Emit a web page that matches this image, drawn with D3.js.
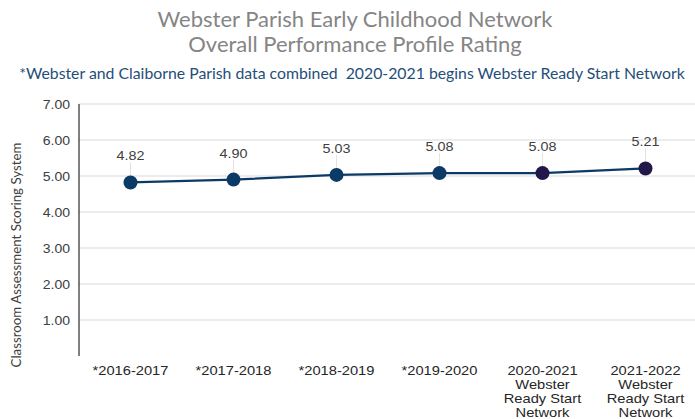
<!DOCTYPE html>
<html lang="en">
<head>
<meta charset="UTF-8">
<title>Webster Parish Early Childhood Network</title>
<script src="https://d3js.org/d3.v7.min.js"></script>
<style>
  body { margin: 0; background: #fff; }
  svg { display: block; }
</style>
</head>
<body>
<div id="chart"></div>
<script>
// data
var years = ["*2016-2017", "*2017-2018", "*2018-2019", "*2019-2020", "2020-2021", "2021-2022"];
var subLabels = [[], [], [], [], ["Webster", "Ready Start", "Network"], ["Webster", "Ready Start", "Network"]];
var scores = [4.82, 4.90, 5.03, 5.08, 5.08, 5.21];
var markerColors = ["#0c3a66", "#0c3a66", "#0c3a66", "#0c3a66", "#22174a", "#22174a"];
var yTicks = [1, 2, 3, 4, 5, 6, 7];

var width = 695, height = 419;
var margin = {top: 104, right: -2, bottom: 63, left: 79};
var stretch = 1.13; // the source picture is a bit wide, text looks stretched

var svg = d3.select("#chart").append("svg")
    .attr("width", width)
    .attr("height", height);

var x = d3.scaleBand()
    .domain(years)
    .range([margin.left, width - margin.right]);

var y = d3.scaleLinear()
    .domain([0, 7])
    .range([height - margin.bottom, margin.top]);

var armFont = "'Liberation Sans', Arial, sans-serif";

// titles
var titleFont = "Lato, 'Open Sans', sans-serif";
svg.append("text")
    .attr("x", 355).attr("y", 27)
    .attr("text-anchor", "middle")
    .attr("font-family", titleFont)
    .attr("font-size", 22)
    .attr("fill", "#858585")
    .text("Webster Parish Early Childhood Network");
svg.append("text")
    .attr("x", 355).attr("y", 52)
    .attr("text-anchor", "middle")
    .attr("font-family", titleFont)
    .attr("font-size", 22)
    .attr("fill", "#858585")
    .text("Overall Performance Profile Rating");
svg.append("text")
    .attr("x", 352).attr("y", 79)
    .attr("text-anchor", "middle")
    .attr("font-family", titleFont)
    .attr("font-size", 15.8)
    .attr("fill", "#1f4e79")
    .style("white-space", "pre")
    .text("*Webster and Claiborne Parish data combined  2020-2021 begins Webster Ready Start Network");

// gridlines
svg.append("g")
    .selectAll("line")
    .data(yTicks)
    .join("line")
    .attr("x1", margin.left)
    .attr("x2", width)
    .attr("y1", function(d) { return y(d); })
    .attr("y2", function(d) { return y(d); })
    .attr("stroke", "#d9d9d9")
    .attr("stroke-width", 1);

// y axis tick labels
svg.append("g")
    .selectAll("text")
    .data(yTicks)
    .join("text")
    .attr("transform", function(d) { return "translate(" + (margin.left - 9) + "," + (y(d) + 4.5) + ") scale(1.08,1)"; })
    .attr("text-anchor", "end")
    .attr("font-family", armFont)
    .attr("font-size", 13)
    .attr("fill", "#404040")
    .text(d3.format(".2f"));
svg.append("line")
    .attr("x1", margin.left).attr("x2", margin.left)
    .attr("y1", y(7)).attr("y2", y(0))
    .attr("stroke", "#000")
    .attr("stroke-width", 1);

// y axis title
svg.append("text")
    .attr("transform", "translate(21," + ((y(0) + y(7)) / 2 + 25) + ") rotate(-90)")
    .attr("text-anchor", "middle")
    .attr("font-family", titleFont)
    .attr("font-size", 13.3)
    .attr("fill", "#404040")
    .text("Classroom Assessment Scoring System");

var cx = function(d, i) { return x(years[i]) + x.bandwidth() / 2; };

// x axis labels
var xLab = svg.append("g")
    .selectAll("text")
    .data(years)
    .join("text")
    .attr("transform", function(d, i) { return "translate(" + cx(d, i) + "," + (y(0) + 19) + ") scale(" + stretch + ",1)"; })
    .attr("text-anchor", "middle")
    .attr("font-family", armFont)
    .attr("font-size", 13)
    .attr("fill", "#262626");
xLab.each(function(d, i) {
    var t = d3.select(this);
    t.append("tspan").attr("x", 0).text(d);
    subLabels[i].forEach(function(s) {
        t.append("tspan").attr("x", 0).attr("dy", 14).text(s);
    });
});

// leader lines
svg.append("g")
    .selectAll("line")
    .data(scores)
    .join("line")
    .attr("x1", cx).attr("x2", cx)
    .attr("y1", function(d) { return y(d) - 20; })
    .attr("y2", function(d) { return y(d) - 6; })
    .attr("stroke", "#e3e3e3")
    .attr("stroke-width", 1);

// line
var line = d3.line()
    .x(cx)
    .y(function(d) { return y(d); });
svg.append("path")
    .datum(scores)
    .attr("d", line)
    .attr("fill", "none")
    .attr("stroke", "#0c3a66")
    .attr("stroke-width", 2.25);

// markers
svg.append("g")
    .selectAll("circle")
    .data(scores)
    .join("circle")
    .attr("cx", cx)
    .attr("cy", function(d) { return y(d); })
    .attr("r", 7)
    .attr("fill", function(d, i) { return markerColors[i]; });

// value labels
svg.append("g")
    .selectAll("text")
    .data(scores)
    .join("text")
    .attr("transform", function(d, i) { return "translate(" + cx(d, i) + "," + (y(d) - 22) + ") scale(1.15,1)"; })
    .attr("text-anchor", "middle")
    .attr("font-family", armFont)
    .attr("font-size", 12.5)
    .attr("fill", "#404040")
    .text(d3.format(".2f"));
</script>
</body>
</html>
